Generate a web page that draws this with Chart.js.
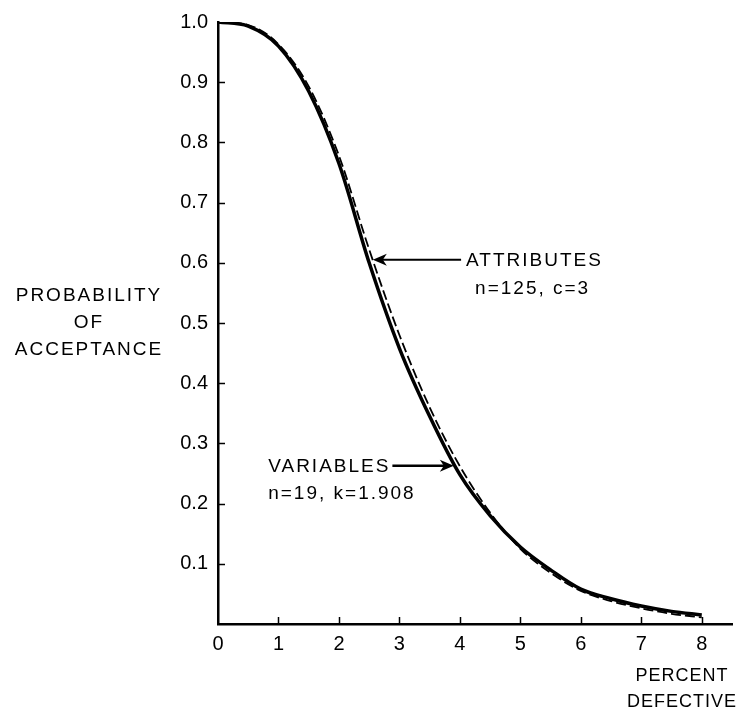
<!DOCTYPE html>
<html>
<head>
<meta charset="utf-8">
<script src="https://cdn.jsdelivr.net/npm/chart.js@4.4.1/dist/chart.umd.min.js"></script>
<style>
  html, body { margin: 0; padding: 0; background: #fff; }
  canvas { display: block; }
</style>
</head>
<body>
<canvas id="ocChart" width="736" height="713"></canvas>
<script>
// percent defective (x) and probability of acceptance for each plan
const pctDefective = [0, 0.5, 1, 1.5, 2, 2.5, 3, 3.5, 4, 4.5, 5, 5.5, 6, 6.5, 7, 7.5, 8];
const variablesPa  = [1.0, 0.993, 0.96, 0.885, 0.765, 0.6, 0.458, 0.345, 0.248, 0.18, 0.128, 0.09, 0.058, 0.042, 0.03, 0.021, 0.015];
const attributesPa = [1.0, 0.995, 0.963, 0.893, 0.778, 0.622, 0.48, 0.36, 0.262, 0.185, 0.125, 0.085, 0.055, 0.038, 0.026, 0.017, 0.011];

const xTickValues = [0, 1, 2, 3, 4, 5, 6, 7, 8];
const yTickValues = [0.1, 0.2, 0.3, 0.4, 0.5, 0.6, 0.7, 0.8, 0.9, 1.0];

// labels
const yTitle = ['PROBABILITY', 'OF', 'ACCEPTANCE'];
const xTitle = ['PERCENT', 'DEFECTIVE'];
const attrLabel = ['ATTRIBUTES', 'n=125, c=3'];
const varLabel = ['VARIABLES', 'n=19, k=1.908'];

// where the arrows point (data units)
const attrArrow = { tipX: 2.56, tailX: 4.02, y: 0.605 };
const varArrow = { tipX: 3.9, textX: 0.83, y: 0.263 };

const FONT = "'Liberation Sans', Arial, sans-serif";

const toPoints = (xs, ys) => xs.map((x, i) => ({ x: x, y: ys[i] }));

function arrow(ctx, x1, y1, x2, y2) {
  // line from (x1,y1) to tip (x2,y2)
  const ang = Math.atan2(y2 - y1, x2 - x1);
  ctx.beginPath();
  ctx.moveTo(x1, y1);
  ctx.lineTo(x2 - 8 * Math.cos(ang), y2);
  ctx.stroke();
  ctx.save();
  ctx.translate(x2, y2);
  ctx.rotate(ang);
  ctx.beginPath();
  ctx.moveTo(0, 0);
  ctx.lineTo(-14, -6);
  ctx.lineTo(-10, 0);
  ctx.lineTo(-14, 6);
  ctx.closePath();
  ctx.fill();
  ctx.restore();
}

const decorations = {
  id: 'decorations',
  afterDraw(chart) {
    const ctx = chart.ctx;
    const xs = chart.scales.x, ys = chart.scales.y;
    ctx.save();
    ctx.fillStyle = '#000';
    ctx.strokeStyle = '#000';

    // inward tick marks
    ctx.lineWidth = 1.5;
    ctx.beginPath();
    xTickValues.slice(1).forEach(v => {
      const px = Math.round(xs.getPixelForValue(v)) + 0.5;
      ctx.moveTo(px, ys.bottom);
      ctx.lineTo(px, ys.bottom - 7);
    });
    yTickValues.slice(0, -1).forEach(v => {
      const py = Math.round(ys.getPixelForValue(v)) + 0.5;
      ctx.moveTo(xs.left, py);
      ctx.lineTo(xs.left + 7, py);
    });
    ctx.stroke();

    const spaced = px => { if ('letterSpacing' in ctx) ctx.letterSpacing = px + 'px'; };
    ctx.font = '19px ' + FONT;
    spaced(2);
    ctx.textBaseline = 'middle';

    // y title
    ctx.textAlign = 'center';
    const yMid = ys.getPixelForValue(0.5);
    yTitle.forEach((t, i) => ctx.fillText(t, 89, yMid + (i - 1) * 27));

    // attributes annotation
    ctx.lineWidth = 2;
    const ay = ys.getPixelForValue(attrArrow.y);
    const aTail = xs.getPixelForValue(attrArrow.tailX);
    arrow(ctx, aTail, ay, xs.getPixelForValue(attrArrow.tipX), ay);
    ctx.textAlign = 'left';
    ctx.fillText(attrLabel[0], aTail + 5, ay + 1);
    ctx.fillText(attrLabel[1], aTail + 14, ay + 29);

    // variables annotation
    const vy = ys.getPixelForValue(varArrow.y);
    const vx = xs.getPixelForValue(varArrow.textX);
    ctx.fillText(varLabel[0], vx, vy + 1);
    ctx.fillText(varLabel[1], vx, vy + 28);
    const w = ctx.measureText(varLabel[0]).width;
    ctx.lineWidth = 2.5;
    arrow(ctx, vx + w + 2, vy, xs.getPixelForValue(varArrow.tipX), vy);

    // x title, tucked into the bottom right corner
    ctx.font = '18px ' + FONT;
    spaced(1);
    ctx.textAlign = 'center';
    xTitle.forEach((t, i) => ctx.fillText(t, 682, 676 + i * 26));

    ctx.restore();
  }
};

new Chart(document.getElementById('ocChart'), {
  type: 'line',
  data: {
    datasets: [
      {
        label: 'Variables n=19, k=1.908',
        data: toPoints(pctDefective, variablesPa),
        borderColor: '#000',
        borderWidth: 3.5,
        pointRadius: 0,
        cubicInterpolationMode: 'monotone',
        fill: false
      },
      {
        label: 'Attributes n=125, c=3',
        data: toPoints(pctDefective, attributesPa),
        borderColor: '#000',
        borderWidth: 1.8,
        borderDash: [10, 4],
        pointRadius: 0,
        cubicInterpolationMode: 'monotone',
        fill: false
      }
    ]
  },
  options: {
    responsive: false,
    animation: false,
    devicePixelRatio: 1,
    layout: { padding: { top: 20, right: 4, left: 0, bottom: 0 } },
    plugins: { legend: { display: false }, tooltip: { enabled: false } },
    scales: {
      x: {
        type: 'linear',
        min: 0,
        max: 8.5,
        afterBuildTicks: s => { s.ticks = xTickValues.map(v => ({ value: v })); },
        afterFit: s => { s.height = 89; },
        grid: { display: false, drawTicks: false },
        border: { display: true, color: '#000', width: 2.5 },
        ticks: {
          color: '#000',
          padding: 8,
          font: { family: FONT, size: 20 },
          maxRotation: 0
        }
      },
      y: {
        type: 'linear',
        min: 0,
        max: 1.0,
        afterBuildTicks: s => { s.ticks = yTickValues.map(v => ({ value: v })); },
        afterFit: s => { s.width = 218; },
        grid: { display: false, drawTicks: false },
        border: { display: true, color: '#000', width: 2.5 },
        ticks: {
          color: '#000',
          padding: 10,
          font: { family: FONT, size: 20 },
          callback: v => v.toFixed(1)
        }
      }
    }
  },
  plugins: [decorations]
});
</script>
</body>
</html>
